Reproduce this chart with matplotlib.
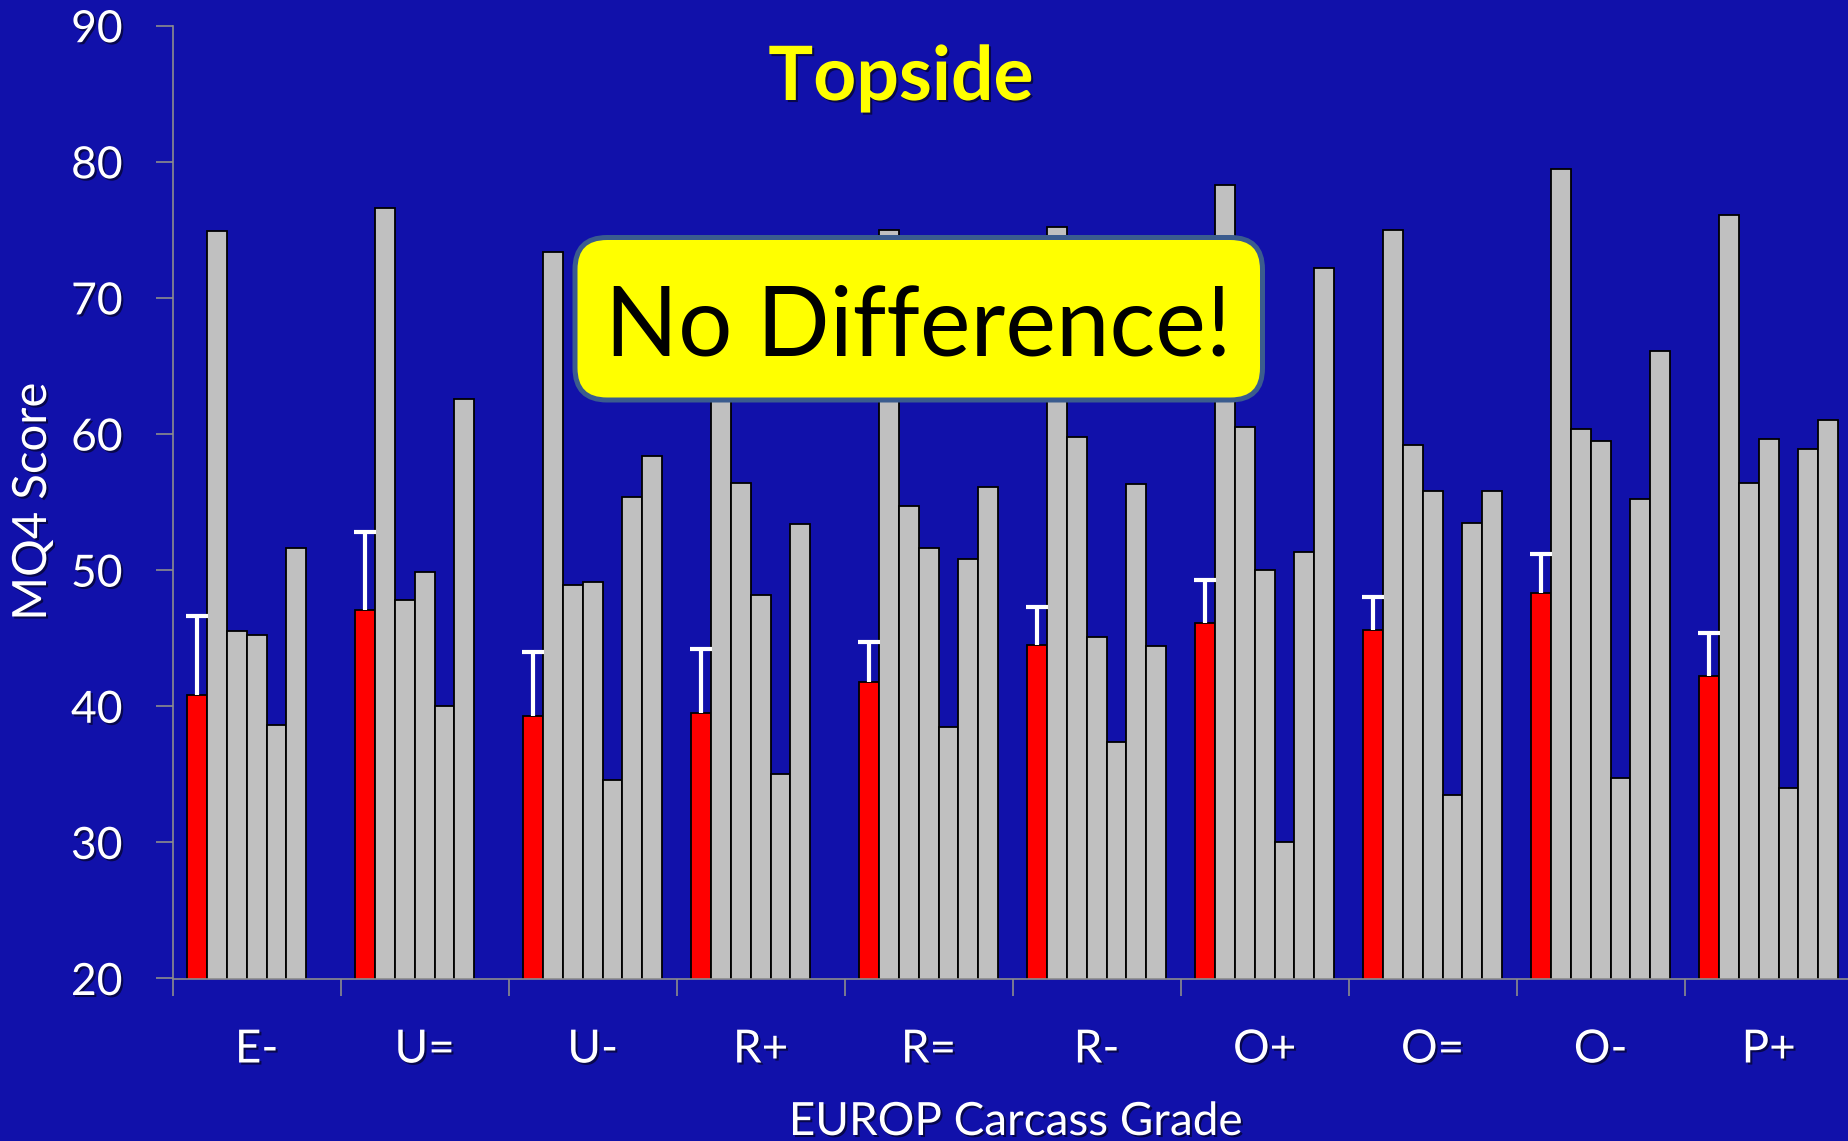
import numpy as np
import matplotlib
matplotlib.use("Agg")
import matplotlib.pyplot as plt
import matplotlib.patheffects as pe
from matplotlib.patches import FancyBboxPatch
from matplotlib.transforms import IdentityTransform

plt.rcParams['font.family'] = ['Lato', 'DejaVu Sans']

# ---------------- data ----------------
categories = ["E-", "U=", "U-", "R+", "R=", "R-", "O+", "O=", "O-", "P+"]
topside_mean = [40.8, 47.1, 39.3, 39.5, 41.8, 44.5, 46.1, 45.6, 48.3, 42.2]
topside_err = [5.8, 5.7, 4.7, 4.7, 2.9, 2.8, 3.2, 2.4, 2.9, 3.2]
other_1 = [74.9, 76.6, 73.4, 68.0, 75.0, 75.2, 78.3, 75.0, 79.5, 76.1]
other_2 = [45.5, 47.8, 48.9, 56.4, 54.7, 59.8, 60.5, 59.2, 60.4, 56.4]
other_3 = [45.2, 49.9, 49.1, 48.2, 51.6, 45.1, 50.0, 55.8, 59.5, 59.6]
other_4 = [38.6, 40.0, 34.6, 35.0, 38.5, 37.4, 30.0, 33.5, 34.7, 34.0]
other_5 = [51.6, 62.6, 55.4, 53.4, 50.8, 56.3, 51.3, 53.5, 55.2, 58.9]
other_6 = [np.nan, np.nan, 58.4, np.nan, 56.1, 44.4, 72.2, 55.8, 66.1, 61.0]
yticks = [20, 30, 40, 50, 60, 70, 80, 90]

# ---------------- style ----------------
BG = '#1111AA'
AXC = '#8C8C8C'
W = 0.118
OFF = 0.087
FW, FH = 1849, 1141

shadow = [pe.withSimplePatchShadow(offset=(1.5, -1.5), shadow_rgbFace='black', alpha=0.55)]

fig = plt.figure(figsize=(FW / 100, FH / 100), dpi=100, facecolor=BG)
ax = fig.add_axes([172.7 / FW, 162.5 / FH, 1680 / FW, 952.8 / FH])
ax.set_facecolor(BG)
ax.set_xlim(0, len(categories))
ax.set_ylim(20, 90)

base = np.arange(len(categories))
series = [other_1, other_2, other_3, other_4, other_5, other_6]

ax.bar(base + OFF, topside_mean, width=W, align='edge', color='#FF0000',
       edgecolor='black', linewidth=1.3, zorder=2)
for s, vals in enumerate(series, start=1):
    v = np.asarray(vals, dtype=float)
    m = np.isfinite(v)
    ax.bar((base + OFF + s * W)[m], v[m], width=W, align='edge', color='#C0C0C0',
           edgecolor='black', linewidth=1.3, zorder=2)

eb = ax.errorbar(base + OFF + W / 2, topside_mean,
                 yerr=[np.zeros(len(topside_err)), topside_err],
                 fmt='none', ecolor='white', elinewidth=3.0, capsize=8,
                 capthick=3.0, zorder=3)
eb[1][0].set_visible(False)

for sp in ['top', 'right']:
    ax.spines[sp].set_visible(False)
for sp in ['left', 'bottom']:
    ax.spines[sp].set_color(AXC)
    ax.spines[sp].set_linewidth(1.2)

ax.set_yticks(yticks)
ax.set_yticklabels([str(t) for t in yticks], color='white', fontsize=32,
                   path_effects=shadow)
ax.tick_params(axis='y', direction='out', length=12, width=1.2, color=AXC, pad=24)

ax.set_xticks(np.arange(len(categories) + 1))
ax.set_xticklabels([])
ax.set_xticks(base + 0.5, minor=True)
ax.set_xticklabels(categories, minor=True, color='white', fontsize=33,
                   path_effects=shadow)
ax.tick_params(axis='x', which='major', direction='out', length=12, width=1.2, color=AXC)
ax.tick_params(axis='x', which='minor', length=0, pad=36)

fig.text(33 / FW, 1 - 501.5 / FH, 'MQ4 Score', rotation=90, ha='center', va='center',
         color='white', fontsize=34, path_effects=shadow)
fig.text(1016 / FW, 1 - 1135 / FH, 'EUROP Carcass Grade', ha='center', va='baseline',
         color='white', fontsize=33, path_effects=shadow)
fig.text(901 / FW, 1 - 100 / FH, 'Topside', ha='center', va='baseline',
         color='#FFFF00', fontsize=54, fontweight='bold', path_effects=shadow)

box = FancyBboxPatch((575, FH - 400), 687.5, 162.5,
                     boxstyle="round,pad=0,rounding_size=32",
                     facecolor='#FFFF00', edgecolor='#3B5C8E', linewidth=3.6,
                     transform=IdentityTransform(), zorder=5)
fig.add_artist(box)
fig.text(918.5 / FW, 1 - 355 / FH, 'No Difference!', ha='center', va='baseline',
         color='black', fontsize=69, zorder=6)

fig.savefig('out.png', dpi=100, facecolor=BG)
